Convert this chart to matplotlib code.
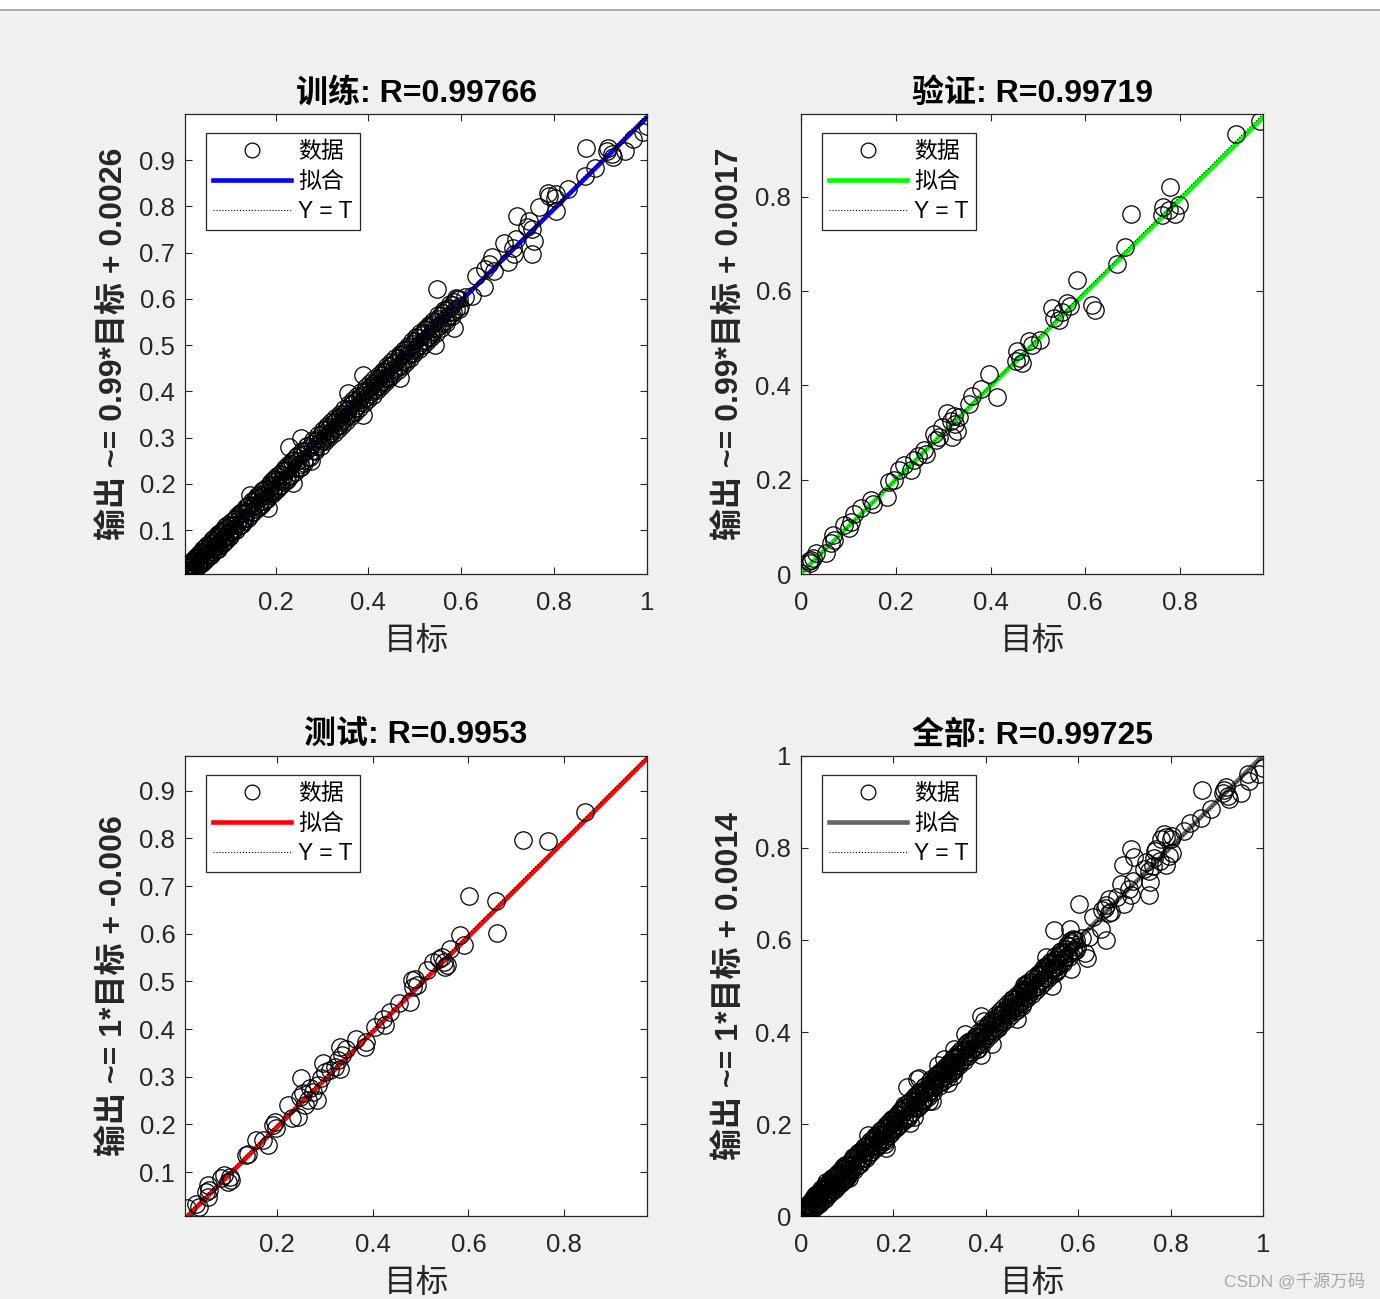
import matplotlib
matplotlib.use("Agg")
import matplotlib.pyplot as plt
from matplotlib.lines import Line2D
from matplotlib.patches import Rectangle

plt.rcParams['font.family'] = ['Liberation Sans', 'Noto Sans CJK SC', 'DejaVu Sans']

# ---------------- data ----------------
train_t = [0.005, 0.008, 0.010, 0.012, 0.014, 0.016, 0.018, 0.020, 0.022, 0.025, 0.027, 0.030, 0.032, 0.034,
           0.036, 0.038, 0.040, 0.043, 0.045, 0.047, 0.050, 0.052, 0.055, 0.057, 0.060, 0.062, 0.064, 0.067,
           0.069, 0.072, 0.074, 0.076, 0.078, 0.080, 0.083, 0.085, 0.087, 0.090, 0.092, 0.095, 0.097, 0.100,
           0.103, 0.106, 0.108, 0.111, 0.114, 0.117, 0.120, 0.123, 0.126, 0.129, 0.132, 0.135, 0.138, 0.141,
           0.144, 0.147, 0.150, 0.153, 0.156, 0.159, 0.162, 0.165, 0.168, 0.171, 0.174, 0.177, 0.180, 0.183,
           0.186, 0.189, 0.192, 0.195, 0.198, 0.201, 0.204, 0.207, 0.210, 0.213, 0.216, 0.219, 0.222, 0.225,
           0.228, 0.229, 0.231, 0.234, 0.237, 0.240, 0.243, 0.246, 0.249, 0.252, 0.254, 0.255, 0.258, 0.261,
           0.264, 0.267, 0.270, 0.273, 0.276, 0.279, 0.282, 0.285, 0.288, 0.291, 0.294, 0.297,
           0.300, 0.303, 0.306, 0.309, 0.312, 0.315, 0.318, 0.321, 0.324, 0.327, 0.330, 0.333, 0.336, 0.339,
           0.342, 0.345, 0.348, 0.351, 0.354, 0.356, 0.357, 0.360, 0.363, 0.366, 0.369, 0.372, 0.375, 0.378,
           0.381, 0.384, 0.387, 0.389, 0.389, 0.390, 0.393, 0.396, 0.399, 0.402, 0.405, 0.408, 0.411, 0.414,
           0.417, 0.420, 0.423, 0.426, 0.429, 0.432, 0.435, 0.438, 0.441, 0.444, 0.447, 0.450, 0.453, 0.456,
           0.459, 0.462, 0.465, 0.468, 0.468, 0.471, 0.474, 0.477, 0.480, 0.483, 0.486, 0.489, 0.492, 0.495,
           0.498, 0.501, 0.504, 0.507, 0.510, 0.513, 0.516, 0.519, 0.522, 0.525, 0.528, 0.531, 0.534, 0.537,
           0.540, 0.543, 0.544, 0.546, 0.547, 0.549, 0.552, 0.555, 0.558, 0.561, 0.564, 0.567, 0.570, 0.573,
           0.576, 0.579, 0.582, 0.584, 0.585, 0.588, 0.591, 0.595, 0.598, 0.609, 0.623,
           0.631, 0.649, 0.652, 0.660, 0.667, 0.670, 0.692, 0.700, 0.711, 0.714, 0.718, 0.721, 0.742, 0.746,
           0.753, 0.756, 0.753, 0.768, 0.786, 0.790, 0.801, 0.804, 0.804, 0.829, 0.866, 0.869, 0.887, 0.913,
           0.916, 0.924, 0.927, 0.952, 0.970, 0.992, 1.000,
           0.006, 0.009, 0.011, 0.013, 0.015, 0.017, 0.019, 0.021, 0.024, 0.026, 0.028, 0.031, 0.033, 0.035,
           0.037, 0.039, 0.042, 0.044, 0.046, 0.049, 0.051, 0.053, 0.056, 0.058, 0.061, 0.063, 0.066, 0.068,
           0.071, 0.073, 0.075, 0.077, 0.079, 0.082, 0.084, 0.086, 0.089, 0.091, 0.094, 0.096, 0.099,
           0.102, 0.105, 0.109, 0.112, 0.115, 0.118, 0.121, 0.124, 0.127, 0.130, 0.133, 0.137, 0.140, 0.143,
           0.146, 0.149, 0.152, 0.155, 0.158, 0.161, 0.164, 0.167, 0.170, 0.173, 0.176, 0.179, 0.182, 0.185,
           0.188, 0.191, 0.194, 0.197, 0.200, 0.203, 0.206, 0.209, 0.212, 0.215, 0.218, 0.221, 0.224, 0.227,
           0.232, 0.236, 0.241, 0.245, 0.250, 0.256, 0.262, 0.268, 0.274, 0.280, 0.286, 0.292, 0.298,
           0.302, 0.307, 0.311, 0.316, 0.320, 0.325, 0.329, 0.334, 0.338, 0.343, 0.347, 0.352, 0.358, 0.362,
           0.367, 0.371, 0.376, 0.380, 0.385, 0.391, 0.395, 0.400, 0.404, 0.409, 0.413, 0.418, 0.422, 0.427,
           0.431, 0.436, 0.440, 0.445, 0.449, 0.454, 0.458, 0.463, 0.467, 0.472, 0.476, 0.481, 0.485, 0.490,
           0.494, 0.499, 0.503, 0.508, 0.512, 0.517, 0.521, 0.526, 0.530, 0.535, 0.539, 0.545, 0.550, 0.556,
           0.562, 0.568, 0.575, 0.581, 0.589, 0.596]
train_y = [0.012, 0.006, 0.018, 0.009, 0.021, 0.010, 0.024, 0.015, 0.031, 0.019, 0.034, 0.025, 0.041, 0.028,
           0.030, 0.045, 0.036, 0.050, 0.039, 0.055, 0.046, 0.060, 0.049, 0.066, 0.054, 0.070, 0.058, 0.063,
           0.076, 0.066, 0.082, 0.070, 0.088, 0.075, 0.079, 0.094, 0.082, 0.098, 0.086, 0.104, 0.090, 0.095,
           0.111, 0.096, 0.112, 0.105, 0.126, 0.114, 0.122, 0.111, 0.135, 0.125, 0.138, 0.127, 0.139, 0.152,
           0.176, 0.150, 0.139, 0.160, 0.154, 0.169, 0.153, 0.170, 0.163, 0.184, 0.173, 0.181, 0.167, 0.148,
           0.180, 0.191, 0.198, 0.186, 0.210, 0.197, 0.208, 0.195, 0.222, 0.209, 0.219, 0.231, 0.211, 0.229,
           0.236, 0.280, 0.220, 0.240, 0.202, 0.251, 0.235, 0.249, 0.262, 0.244, 0.236, 0.299, 0.265, 0.252,
           0.270, 0.281, 0.259, 0.277, 0.250, 0.286, 0.274, 0.293, 0.281, 0.298, 0.288, 0.305,
           0.292, 0.311, 0.300, 0.318, 0.305, 0.321, 0.310, 0.330, 0.316, 0.334, 0.323, 0.341, 0.328, 0.345,
           0.334, 0.352, 0.340, 0.358, 0.347, 0.396, 0.362, 0.352, 0.370, 0.356, 0.376, 0.365, 0.382, 0.370,
           0.388, 0.376, 0.393, 0.349, 0.435, 0.383, 0.400, 0.387, 0.406, 0.394, 0.412, 0.400, 0.418, 0.405,
           0.423, 0.411, 0.430, 0.418, 0.436, 0.423, 0.442, 0.430, 0.448, 0.434, 0.455, 0.441, 0.460, 0.448,
           0.466, 0.452, 0.472, 0.429, 0.458, 0.479, 0.465, 0.484, 0.470, 0.491, 0.478, 0.496, 0.483, 0.503,
           0.489, 0.508, 0.495, 0.516, 0.500, 0.521, 0.507, 0.527, 0.512, 0.533, 0.518, 0.539, 0.524, 0.545,
           0.531, 0.551, 0.500, 0.537, 0.621, 0.557, 0.542, 0.563, 0.548, 0.569, 0.553, 0.575, 0.560, 0.581,
           0.566, 0.587, 0.571, 0.537, 0.593, 0.578, 0.600, 0.600, 0.585, 0.604, 0.607,
           0.650, 0.625, 0.665, 0.676, 0.690, 0.661, 0.722, 0.679, 0.711, 0.697, 0.729, 0.780, 0.755, 0.769,
           0.751, 0.726, 0.697, 0.798, 0.830, 0.823, 0.819, 0.826, 0.790, 0.837, 0.866, 0.927, 0.884, 0.920,
           0.927, 0.913, 0.906, 0.920, 0.945, 0.960, 0.973,
           0.020, 0.002, 0.014, 0.025, 0.004, 0.027, 0.008, 0.033, 0.012, 0.040, 0.017, 0.045, 0.022, 0.048,
           0.026, 0.053, 0.029, 0.058, 0.034, 0.062, 0.037, 0.068, 0.043, 0.071, 0.047, 0.078, 0.052, 0.083,
           0.057, 0.087, 0.060, 0.091, 0.065, 0.096, 0.070, 0.100, 0.074, 0.106, 0.079, 0.110, 0.084,
           0.088, 0.118, 0.097, 0.124, 0.101, 0.131, 0.108, 0.136, 0.114, 0.142, 0.120, 0.149, 0.126, 0.155,
           0.133, 0.162, 0.139, 0.168, 0.145, 0.173, 0.151, 0.179, 0.157, 0.186, 0.162, 0.192, 0.168, 0.197,
           0.175, 0.204, 0.180, 0.210, 0.186, 0.216, 0.192, 0.221, 0.198, 0.228, 0.204, 0.234, 0.209, 0.241,
           0.216, 0.249, 0.226, 0.259, 0.234, 0.270, 0.246, 0.282, 0.258, 0.294, 0.270, 0.306, 0.282,
           0.316, 0.293, 0.325, 0.301, 0.333, 0.310, 0.343, 0.319, 0.352, 0.328, 0.361, 0.337, 0.373, 0.347,
           0.381, 0.356, 0.390, 0.364, 0.399, 0.375, 0.409, 0.384, 0.418, 0.393, 0.427, 0.402, 0.436, 0.411,
           0.445, 0.420, 0.454, 0.429, 0.463, 0.438, 0.472, 0.446, 0.481, 0.455, 0.490, 0.464, 0.499, 0.473,
           0.508, 0.482, 0.517, 0.491, 0.526, 0.500, 0.535, 0.509, 0.544, 0.518, 0.553, 0.527, 0.565, 0.538,
           0.576, 0.549, 0.590, 0.562, 0.603, 0.578]

val_t = [0.000, 0.017, 0.021, 0.025, 0.018, 0.032, 0.053, 0.063, 0.067, 0.070, 0.091, 0.102, 0.105, 0.112,
         0.126, 0.151, 0.147, 0.182, 0.186, 0.196, 0.207, 0.218, 0.232, 0.239, 0.246, 0.260, 0.263, 0.281,
         0.284, 0.291, 0.298, 0.309, 0.316, 0.323, 0.326, 0.330, 0.333, 0.319, 0.354, 0.361, 0.379, 0.396,
         0.414, 0.453, 0.456, 0.463, 0.467, 0.481, 0.488, 0.505, 0.530, 0.533, 0.544, 0.551, 0.561, 0.568,
         0.582, 0.614, 0.620, 0.667, 0.684, 0.697, 0.761, 0.765, 0.776, 0.790, 0.797, 0.779, 0.919, 0.968]
val_y = [0.002, 0.027, 0.030, 0.034, 0.023, 0.044, 0.044, 0.065, 0.083, 0.072, 0.104, 0.097, 0.111, 0.128,
         0.139, 0.149, 0.156, 0.164, 0.195, 0.199, 0.220, 0.230, 0.220, 0.241, 0.251, 0.262, 0.255, 0.297,
         0.283, 0.290, 0.311, 0.342, 0.325, 0.335, 0.318, 0.304, 0.332, 0.290, 0.360, 0.378, 0.392, 0.423,
         0.375, 0.451, 0.472, 0.458, 0.448, 0.493, 0.486, 0.497, 0.564, 0.542, 0.539, 0.556, 0.574, 0.567,
         0.623, 0.571, 0.560, 0.658, 0.693, 0.762, 0.760, 0.778, 0.771, 0.764, 0.782, 0.820, 0.932, 0.960]

test_t = [0.012, 0.031, 0.038, 0.055, 0.059, 0.055, 0.052, 0.083, 0.090, 0.101, 0.104, 0.097, 0.136, 0.139,
          0.157, 0.171, 0.181, 0.192, 0.199, 0.195, 0.224, 0.231, 0.245, 0.251, 0.248, 0.255, 0.258, 0.265,
          0.269, 0.276, 0.283, 0.286, 0.293, 0.300, 0.297, 0.310, 0.321, 0.328, 0.331, 0.335, 0.331, 0.345,
          0.366, 0.384, 0.387, 0.405, 0.422, 0.426, 0.436, 0.454, 0.478, 0.482, 0.485, 0.492, 0.489, 0.513,
          0.527, 0.538, 0.545, 0.548, 0.555, 0.562, 0.552, 0.583, 0.590, 0.601, 0.657, 0.660, 0.715, 0.767,
          0.843]
test_y = [0.025, 0.034, 0.027, 0.073, 0.062, 0.048, 0.059, 0.087, 0.094, 0.090, 0.083, 0.080, 0.136, 0.139,
          0.167, 0.167, 0.157, 0.199, 0.192, 0.206, 0.241, 0.213, 0.216, 0.297, 0.258, 0.265, 0.241, 0.251,
          0.276, 0.269, 0.251, 0.283, 0.297, 0.310, 0.328, 0.314, 0.321, 0.335, 0.363, 0.345, 0.317, 0.359,
          0.380, 0.363, 0.373, 0.405, 0.422, 0.408, 0.436, 0.454, 0.457, 0.503, 0.489, 0.492, 0.506, 0.524,
          0.541, 0.548, 0.552, 0.541, 0.534, 0.569, 0.531, 0.597, 0.576, 0.679, 0.669, 0.601, 0.797, 0.794,
          0.855]

panel_titles = ['训练: R=0.99766', '验证: R=0.99719', '测试: R=0.9953', '全部: R=0.99725']
ylabels = ['输出 ~= 0.99*目标 + 0.0026', '输出 ~= 0.99*目标 + 0.0017',
           '输出 ~= 1*目标 + -0.006', '输出 ~= 1*目标 + 0.0014']
fit_slope = [0.99, 0.99, 1.0, 1.0]
fit_icpt = [0.0026, 0.0017, -0.006, 0.0014]
fit_colors = ['#0000ff', '#00ff00', '#ff0000', '#666666']
limits = [(0.005, 1.0), (0.0, 0.975), (0.008, 0.973), (0.0, 1.0)]
xticks = [[0.2, 0.4, 0.6, 0.8, 1.0], [0, 0.2, 0.4, 0.6, 0.8], [0.2, 0.4, 0.6, 0.8], [0, 0.2, 0.4, 0.6, 0.8, 1.0]]
xticklabels = [['0.2', '0.4', '0.6', '0.8', '1'], ['0', '0.2', '0.4', '0.6', '0.8'],
               ['0.2', '0.4', '0.6', '0.8'], ['0', '0.2', '0.4', '0.6', '0.8', '1']]
yticks = [[0.1, 0.2, 0.3, 0.4, 0.5, 0.6, 0.7, 0.8, 0.9], [0, 0.2, 0.4, 0.6, 0.8],
          [0.1, 0.2, 0.3, 0.4, 0.5, 0.6, 0.7, 0.8, 0.9], [0, 0.2, 0.4, 0.6, 0.8, 1.0]]
yticklabels = [['0.1', '0.2', '0.3', '0.4', '0.5', '0.6', '0.7', '0.8', '0.9'], ['0', '0.2', '0.4', '0.6', '0.8'],
               ['0.1', '0.2', '0.3', '0.4', '0.5', '0.6', '0.7', '0.8', '0.9'], ['0', '0.2', '0.4', '0.6', '0.8', '1']]
legend_labels = ['数据', '拟合', 'Y = T']
xlabel_text = '目标'

all_t = train_t + val_t + test_t
all_y = train_y + val_y + test_y
sets = [(train_t, train_y), (val_t, val_y), (test_t, test_y), (all_t, all_y)]

# ---------------- figure ----------------
W, H = 1380, 1299
fig = plt.figure(figsize=(W / 100, H / 100), dpi=100, facecolor='#f0f0f0')
fig.patches.append(Rectangle((0, 1 - 9 / H), 1, 9 / H, transform=fig.transFigure,
                             facecolor='white', edgecolor='none', zorder=0))
fig.lines.append(Line2D([0, 1], [1 - 9.5 / H, 1 - 9.5 / H], transform=fig.transFigure,
                        color='#a0a0a0', lw=1.2))

axes_px = [(185, 114), (801, 114), (185, 756), (801, 756)]
aw, ah = 462, 460
tc = '#262626'

for i, (px, py) in enumerate(axes_px):
    ax = fig.add_axes([px / W, 1 - (py + ah) / H, aw / W, ah / H], facecolor='white')
    t, y = sets[i]
    lo, hi = limits[i]
    ax.plot(t, y, linestyle='none', marker='o', markersize=12.5, markerfacecolor='none',
            markeredgecolor='black', markeredgewidth=0.9, zorder=3, label=legend_labels[0])
    ax.plot([lo, hi], [fit_slope[i] * lo + fit_icpt[i], fit_slope[i] * hi + fit_icpt[i]],
            color=fit_colors[i], lw=3.3, zorder=2, label=legend_labels[1])
    ax.plot([lo, hi], [lo, hi], color='black', lw=0.8, linestyle=':', zorder=4, label=legend_labels[2])
    ax.set_xlim(lo, hi)
    ax.set_ylim(lo, hi)
    ax.set_xticks(xticks[i])
    ax.set_xticklabels(xticklabels[i])
    ax.set_yticks(yticks[i])
    ax.set_yticklabels(yticklabels[i])
    ax.tick_params(direction='in', length=5, width=0.8, colors=tc, labelsize=18.5,
                   top=True, right=True, labelcolor=tc)
    ax.tick_params(axis='x', pad=12)
    ax.tick_params(axis='y', pad=7)
    for s in ax.spines.values():
        s.set_color(tc)
        s.set_linewidth(0.9)
    ax.set_title(panel_titles[i], fontsize=23, fontweight='bold', color='black', pad=9)
    ax.set_xlabel(xlabel_text, fontsize=23.5, color=tc, labelpad=8)
    ax.set_ylabel(ylabels[i], fontsize=23, fontweight='bold', color=tc, labelpad=7)
    leg = ax.legend(loc='upper left', bbox_to_anchor=(0.045, 0.959), borderaxespad=0,
                    fontsize=16.5, frameon=True, fancybox=False, framealpha=1,
                    edgecolor=tc, handlelength=3.4, handletextpad=0.3, labelspacing=0.3,
                    borderpad=0.32, markerscale=0.85)
    leg.get_frame().set_linewidth(0.9)

fig.text(1365 / W, 1 - 1281 / H, 'CSDN @千源万码', ha='right', va='center', fontsize=12.5, color='#a8a8a8')

fig.savefig('out.png', dpi=100, facecolor=fig.get_facecolor())
